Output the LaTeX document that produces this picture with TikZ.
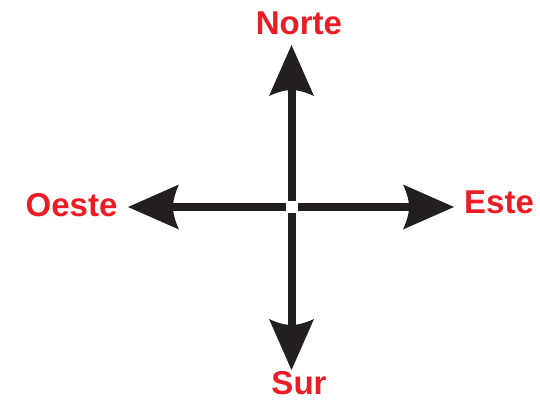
\documentclass[tikz,border=0pt]{standalone}
\usepackage{fontspec}
\setmainfont{Liberation Sans}
\usetikzlibrary{arrows.meta}
\definecolor{compred}{HTML}{ED1C24}
\definecolor{compblack}{HTML}{231F20}
\pgfdeclarearrow{
  name = CompassTip,
  setup code = {
    \pgfarrowssettipend{0pt}
    \pgfarrowssetbackend{-51pt}
    \pgfarrowssetlineend{-40pt}
    \pgfarrowssetvisualbackend{-45pt}
    \pgfarrowsupperhullpoint{0pt}{0pt}
    \pgfarrowsupperhullpoint{-51pt}{22.5pt}
  },
  drawing code = {
    \pgfpathmoveto{\pgfpoint{0pt}{0pt}}
    \pgfpathlineto{\pgfpoint{-51pt}{22.5pt}}
    \pgfpathcurveto{\pgfpoint{-47pt}{14pt}}{\pgfpoint{-45pt}{6pt}}{\pgfpoint{-45pt}{0pt}}
    \pgfpathcurveto{\pgfpoint{-45pt}{-6pt}}{\pgfpoint{-47pt}{-14pt}}{\pgfpoint{-51pt}{-22.5pt}}
    \pgfpathclose
    \pgfusepathqfill
  }
}
\begin{document}
\begin{tikzpicture}[x=1pt,y=1pt,
  dirline/.style={draw=compblack,fill=compblack,line width=8pt,-{CompassTip}},
  dirlabel/.style={text=compred,font=\bfseries\fontsize{33}{40}\selectfont,inner sep=0pt,anchor=base,text depth=0pt}]
\useasboundingbox (0,0) rectangle (540,400);
\coordinate (c) at (291.5,193);
\coordinate (nstart) at (291.5,199);
\coordinate (sstart) at (291.5,187);
\coordinate (wstart) at (285.5,193);
\coordinate (estart) at (297.5,193);
\coordinate (ntip) at (291.5,355);
\coordinate (stip) at (291.5,30);
\coordinate (wtip) at (128,193);
\coordinate (etip) at (454,193);
\draw[dirline] (nstart) -- (ntip);
\draw[dirline] (sstart) -- (stip);
\draw[dirline] (wstart) -- (wtip);
\draw[dirline] (estart) -- (etip);
\node[dirlabel] (norte) at (299,365) {Norte};
\node[dirlabel] (sur) at (299,5.5) {Sur};
\node[dirlabel] (oeste) at (71.5,184) {Oeste};
\node[dirlabel] (este) at (499,186.7) {Este};
\end{tikzpicture}
\end{document}
